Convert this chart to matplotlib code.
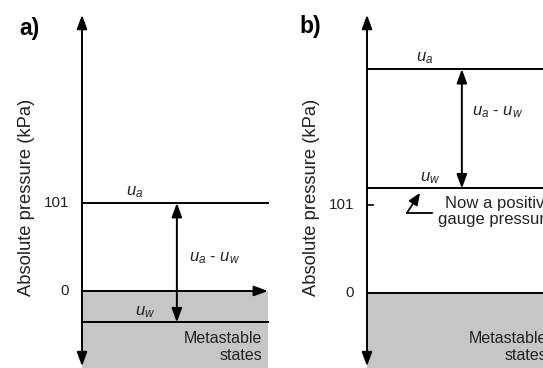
import matplotlib
matplotlib.use("Agg")
import matplotlib.pyplot as plt

plt.rcParams['font.family'] = ['Liberation Sans', 'DejaVu Sans']
plt.rcParams['mathtext.fontset'] = 'custom'
plt.rcParams['mathtext.rm'] = 'Liberation Sans'
plt.rcParams['mathtext.it'] = 'Liberation Sans:italic'
plt.rcParams['text.color'] = '#222222'

# pressures in kPa
A_UA = 101
A_UW = -36
B_UA = 257
B_UW = 120
TICKS = [0, 101]
TICK_LABELS = ['0', '101']

GREY = '#c6c6c6'
ARROW = dict(arrowstyle='<|-|>,head_length=0.6,head_width=0.22', lw=1.4,
             color='k', mutation_scale=14, shrinkA=0, shrinkB=0)
HEAD = dict(arrowstyle='-|>,head_length=0.6,head_width=0.22', lw=1.4,
            color='k', mutation_scale=14, shrinkA=0, shrinkB=0)

W, H = 543, 368
fig = plt.figure(figsize=(W / 100, H / 100), dpi=100)


def panel(left, ylim, ua, uw, letter, letter_xy, zero_arrow, x_end, ylab_y):
    ax = fig.add_axes([left / W, 0, 186 / W, 1])
    ax.set_xlim(0, 1)
    ax.set_ylim(*ylim)
    ax.axis('off')
    lo, hi = ylim
    # grey metastable region
    ax.fill_between([0, x_end], lo, 0, color=GREY, lw=0, zorder=0)
    # vertical pressure axis
    ax.annotate('', xy=(0, hi - 17), xytext=(0, lo + 2), arrowprops=ARROW,
                annotation_clip=False)
    # zero line
    if zero_arrow:
        ax.annotate('', xy=(1.0, 0), xytext=(0, 0), arrowprops=HEAD)
    else:
        ax.plot([0, x_end], [0, 0], color='k', lw=1.4)
    ax.plot([0, x_end], [ua, ua], color='k', lw=1.4, clip_on=False)
    ax.plot([0, x_end], [uw, uw], color='k', lw=1.4, clip_on=False)
    # suction arrow
    xm = 0.51
    ax.annotate('', xy=(xm, ua), xytext=(xm, uw), arrowprops=ARROW)
    for t, lab in zip(TICKS, TICK_LABELS):
        ax.text(-0.07, t, lab, ha='right', va='center', fontsize=11)
    ax.text(-0.30, ylab_y, 'Absolute pressure (kPa)', rotation=90,
            ha='center', va='center', fontsize=13.2)
    fig.text(letter_xy[0] / W, 1 - letter_xy[1] / H, letter, fontsize=16.5,
             fontweight='bold', ha='center', va='center', color='k')
    ax.text(0.968, lo + 24, 'Metastable\nstates', ha='right', va='center',
            fontsize=11.5, linespacing=1.1, clip_on=False)
    return ax


# panel a
ax = panel(82, (-88.4, 334.0), A_UA, A_UW, 'a)', (29, 29), True, 1.0, 108)
ax.text(0.285, A_UA + 3, '$u_a$', ha='center', va='bottom', fontsize=12)
ax.text(0.34, A_UW + 3, '$u_w$', ha='center', va='bottom', fontsize=12)
ax.text(0.715, 38, '$u_a$ - $u_w$', ha='center', va='center', fontsize=12)

# panel b
ax = panel(367, (-86.1, 336.3), B_UA, B_UW, 'b)', (310, 26), False, 1.2, 110)
ax.plot([0, 0.03], [101, 101], color='k', lw=1.2)
ax.text(0.31, B_UA + 3, '$u_a$', ha='center', va='bottom', fontsize=12)
ax.text(0.34, B_UW + 3, '$u_w$', ha='center', va='bottom', fontsize=12)
ax.text(0.70, 208, '$u_a$ - $u_w$', ha='center', va='center', fontsize=12)
ax.plot([0.35, 0.215], [92, 92], color='k', lw=1.3)
ax.annotate('', xy=(0.285, 115), xytext=(0.215, 92),
            arrowprops=dict(arrowstyle='-|>,head_length=0.6,head_width=0.25',
                            lw=1.3, color='k', mutation_scale=12,
                            shrinkA=0, shrinkB=0))
ax.text(0.42, 103, 'Now a positive', ha='left', va='center', fontsize=12,
        clip_on=False)
ax.text(0.38, 84, 'gauge pressure', ha='left', va='center', fontsize=12,
        clip_on=False)

fig.savefig('out.png', dpi=100, facecolor='white')
